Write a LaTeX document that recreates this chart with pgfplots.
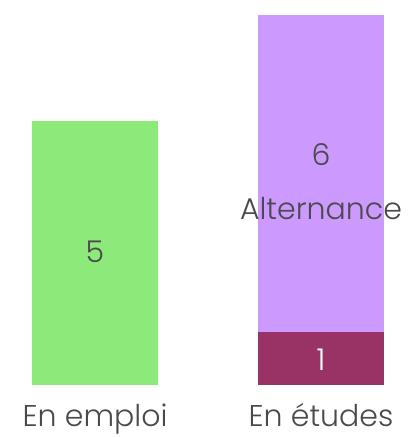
\documentclass[border=0pt]{standalone}
\usepackage{pgfplots}
\pgfplotsset{compat=1.18}
\usepackage{fontspec}
\setmainfont{Poppins Light}
\definecolor{cgreen}{HTML}{8CE97A}
\definecolor{cpurple}{HTML}{CC99FF}
\definecolor{cmag}{HTML}{993366}
\definecolor{ctext}{HTML}{4A4A4A}
\begin{document}
\begin{tikzpicture}[x=1pt,y=1pt]
\path[use as bounding box] (0,-52) rectangle (411,385);
\begin{axis}[
  at={(0,0)}, anchor=south west,
  scale only axis, width=411pt, height=370pt,
  xmin=-0.4204, xmax=1.3982, ymin=0, ymax=7,
  axis line style={draw=none}, ticks=none,
  xtick=\empty, ytick=\empty,
  ybar stacked, bar width=0.5575,
  clip=false,
]
\addplot[fill=cgreen, draw=none] coordinates {(0,5) (1,0)};
\addplot[fill=cmag, draw=none] coordinates {(0,0) (1,1)};
\addplot[fill=cpurple, draw=none] coordinates {(0,0) (1,6)};
\end{axis}
\tikzset{lab/.style={font=\fontsize{30}{36}\selectfont, text=ctext, anchor=base, inner sep=0pt}}
\node[lab] at (95,122) {5};
\node[lab, text=white] at (321,15) {1};
\node[lab] at (321,219) {6};
\node[lab] at (321,165) {Alternance};
\node[lab] at (95,-41) {En emploi};
\node[lab] at (321,-41) {En études};
\end{tikzpicture}
\end{document}
